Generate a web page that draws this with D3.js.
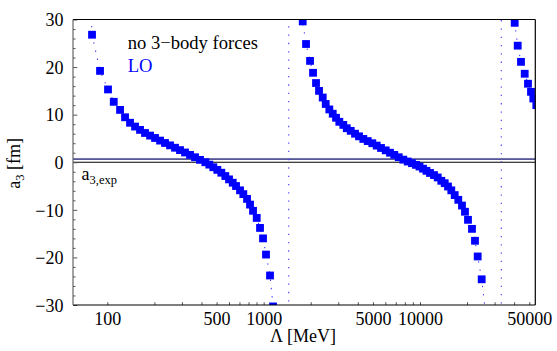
<!DOCTYPE html>
<html><head><meta charset="utf-8">
<script src="https://cdn.jsdelivr.net/npm/d3@7"></script>
<style>body{margin:0;background:#fff}svg{display:block}text{font-family:"Liberation Serif","Times New Roman",Times,serif}</style>
</head><body><svg id="c" width="557" height="351"></svg>
<script>
// Cutoff Λ [MeV] (points at poles included, values beyond the plot range are clipped)
const lambda = [71.6, 79.8, 89.8, 101.0, 109.9, 120.6, 129.8, 139.7, 150.4, 161.9, 174.2, 187.6, 201.9, 217.4, 233.9, 251.8, 271.0, 291.7, 314.1, 338.0, 363.9, 391.6, 423.5, 449.0, 476.4, 505.3, 535.9, 568.5, 600.3, 634.0, 665.6, 706.0, 741.1, 782.7, 817.9, 855.0, 902.7, 947.7, 990.6, 1035, 1098, 1148,
  1446, 1446,
  1777, 1866, 1980, 2069, 2162, 2260, 2386, 2494, 2630, 2765, 2903, 3047, 3232, 3399, 3605, 3840, 4073, 4340, 4630, 4954, 5285, 5632, 6034, 6429, 6849, 7308, 7821, 8343, 8887, 9428, 9927, 10452, 11003, 11589, 12293, 12981, 13688, 14388, 15102, 15856, 16669, 17578, 18558, 19398, 20277, 21502, 22475, 23388, 24803,
  33113, 33113,
  40341, 42165, 44259, 46745, 49064, 51286, 53050, 55450, 58000];
// a3 [fm]
const a3 = [60, 26.8, 19.2, 15.3, 12.7, 11.0, 9.45, 8.3, 7.5, 6.8, 6.15, 5.6, 5.1, 4.55, 4.05, 3.55, 3.05, 2.55, 2.05, 1.55, 1.05, 0.5, 0.0, -0.5, -1.05, -1.6, -2.2, -2.9, -3.6, -4.3, -5.0, -5.9, -6.7, -7.7, -8.9, -10.2, -11.7, -13.8, -16.0, -19.4, -23.8, -30.3,
  -60, 60,
  29.6, 24.85, 21.3, 18.8, 16.65, 15.0, 13.6, 12.25, 11.1, 10.2, 9.35, 8.5, 7.85, 7.15, 6.6, 6.0, 5.45, 4.9, 4.45, 4.0, 3.5, 3.0, 2.5, 2.0, 1.55, 1.05, 0.55, 0.15, -0.2, -0.55, -0.9, -1.35, -1.8, -2.25, -2.7, -3.2, -3.9, -4.4, -5.1, -5.9, -6.9, -7.9, -9.1, -10.4, -12.1, -14.0, -16.5, -19.8, -24.6,
  -60, 60,
  29.3, 24.5, 21.1, 18.6, 16.5, 14.8, 13.4, 12.0, 10.9];

const xTicks = [100,200,300,400,500,600,700,800,900,1000,2000,3000,4000,5000,6000,7000,8000,9000,10000,20000,30000,40000,50000];
const xTickLabels = ["100","500","1000","5000","10000","50000"];
const yMajor = [-30,-20,-10,0,10,20,30];
const yMinor = [-28,-26,-24,-22,-18,-16,-14,-12,-8,-6,-4,-2,2,4,6,8,12,14,16,18,22,24,26,28];
const a3expLow = 0.61, a3expHigh = 0.69;
const legendText = ["no 3\u2212body forces", "LO"];

const svg = d3.select("#c");
const L = 73, R = 535.3, T = 19.5, B = 305;
const x = d3.scaleLog().domain([60.3, 54640]).range([L, R]);
const y = d3.scaleLinear().domain([-30, 30]).range([B, T]);

svg.append("defs").append("clipPath").attr("id","clip")
  .append("rect").attr("x",L).attr("y",T).attr("width",R-L).attr("height",B-T);

const plot = svg.append("g").attr("clip-path","url(#clip)");

// a3,exp lines
plot.append("line").attr("x1",L).attr("x2",R).attr("y1",y(a3expHigh)-0.6).attr("y2",y(a3expHigh)-0.6)
  .attr("stroke","#c8c8f0").attr("stroke-width",1);
plot.append("line").attr("x1",L).attr("x2",R).attr("y1",y((a3expLow+a3expHigh)/2)).attr("y2",y((a3expLow+a3expHigh)/2))
  .attr("stroke","#1e1e70").attr("stroke-width",1.2);
// zero axis
plot.append("line").attr("x1",L).attr("x2",R).attr("y1",y(0)).attr("y2",y(0))
  .attr("stroke","#000").attr("stroke-width",1.1);

const pts = lambda.map((l,i)=>[l, a3[i]]);
plot.append("path").datum(pts)
  .attr("d", d3.line().x(d=>x(d[0])).y(d=>y(d[1])))
  .attr("fill","none").attr("stroke","#3a3aff").attr("stroke-width",1.1)
  .attr("stroke-dasharray","1.3,7");

const s = 7.8;
plot.selectAll("rect.pt").data(pts).enter().append("rect").attr("class","pt")
  .attr("x", d=>x(d[0])-s/2).attr("y", d=>y(d[1])-s/2)
  .attr("width", s).attr("height", s).attr("fill","#0000ff");

// axes
const yAx = svg.append("g").attr("transform",`translate(${L},0)`)
  .call(d3.axisLeft(y).tickValues(yMajor).tickSizeInner(-4.3).tickSizeOuter(0).tickPadding(9.5)
    .tickFormat(d => d < 0 ? "\u2212" + (-d) : String(d)));
yAx.select(".domain").remove();
yAx.selectAll("line").attr("stroke","#555");
yAx.selectAll("text").attr("font-size",18).attr("fill","#000").attr("dy","0.35em")
  .attr("font-family","Liberation Serif");
const yAx2 = svg.append("g").attr("transform",`translate(${L},0)`)
  .call(d3.axisLeft(y).tickValues(yMinor).tickSizeInner(-2.5).tickSizeOuter(0).tickFormat(""));
yAx2.select(".domain").remove();
yAx2.selectAll("line").attr("stroke","#555");

const xAx = svg.append("g").attr("transform",`translate(0,${B})`)
  .call(d3.axisBottom(x).tickValues(xTicks).tickSizeInner(-2.8).tickSizeOuter(0).tickPadding(7.4)
    .tickFormat(d => xTickLabels.includes(String(d)) ? String(d) : ""));
xAx.select(".domain").remove();
xAx.selectAll("line").attr("stroke","#555");
xAx.selectAll("text").attr("font-size",18).attr("fill","#000").attr("font-family","Liberation Serif");

// frame
svg.append("line").attr("x1",L).attr("x2",R).attr("y1",T).attr("y2",T).attr("stroke","#000").attr("stroke-width",1.2);
svg.append("line").attr("x1",R).attr("x2",R).attr("y1",T).attr("y2",B).attr("stroke","#000").attr("stroke-width",1.2);
svg.append("line").attr("x1",L).attr("x2",R).attr("y1",B).attr("y2",B).attr("stroke","#000").attr("stroke-width",1.2);
svg.append("line").attr("x1",L).attr("x2",L).attr("y1",T).attr("y2",B).attr("stroke","#666").attr("stroke-width",1.2);

// legend texts
svg.append("text").attr("x",127.7).attr("y",48.5).attr("font-size",18.6).attr("fill","#000").text(legendText[0]);
svg.append("text").attr("x",127.7).attr("y",71.6).attr("font-size",18.6).attr("fill","#0000ff").text(legendText[1]);

// a3,exp label
const ae = svg.append("text").attr("x",81.5).attr("y",180).attr("font-size",18).attr("fill","#000");
ae.append("tspan").text("a");
ae.append("tspan").attr("font-size",12.5).attr("dy",4).text("3,exp");

// axis labels
svg.append("text").attr("x",303).attr("y",342).attr("text-anchor","middle").attr("font-size",18).text("\u039B [MeV]");
const yl = svg.append("text").attr("transform","translate(20,163.5) rotate(-90)").attr("text-anchor","middle").attr("font-size",18);
yl.append("tspan").text("a");
yl.append("tspan").attr("font-size",12.5).attr("dy",4).text("3");
yl.append("tspan").attr("dy",-4).text(" [fm]");
</script></body></html>
